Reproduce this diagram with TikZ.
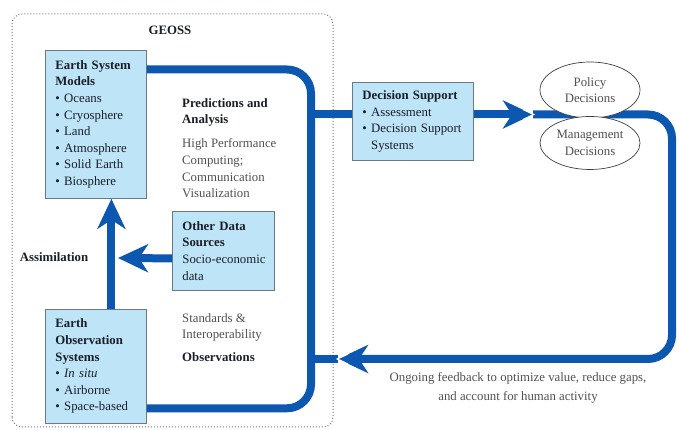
\documentclass[tikz,border=0pt]{standalone}
\usepackage{fontspec}
\setmainfont{Liberation Serif}
\usetikzlibrary{positioning,arrows.meta,shapes.geometric}
\definecolor{flowblue}{RGB}{12,88,176}
\definecolor{boxfill}{RGB}{190,228,247}
\definecolor{boxline}{RGB}{110,120,128}
\definecolor{txtgray}{RGB}{80,80,80}
\definecolor{txtdark}{RGB}{25,30,40}
\newcommand\geofont{\fontsize{12.8}{16.6}\selectfont}
\tikzset{
  box/.style={draw=boxline, fill=boxfill, anchor=north west, inner xsep=10pt, inner ysep=0pt,
    align=left, text=txtdark, line width=0.8pt, font=\geofont},
  flow/.style={draw=flowblue, line width=8pt},
  head/.style={-{Stealth[length=30pt,width=28pt,inset=9pt]}},
  lbl/.style={inner sep=0pt, align=left, text=txtgray, font=\geofont},
  bold/.style={inner sep=0pt, align=left, text=txtdark, font=\geofont\bfseries},
  dec/.style={ellipse, draw=black!75, fill=white, line width=0.7pt, minimum width=100pt,
    inner sep=0pt, text=txtgray, align=center, font=\geofont},
  notch/.style={white, line width=1.2pt},
}
\begin{document}
\begin{tikzpicture}[x=1pt, y=1pt]
\useasboundingbox (0,0) rectangle (679,430);
% GEOSS frame
\draw[boxline, dotted, line width=1pt, rounded corners=10pt] (12,3) rectangle (333,416);
\node[bold] (geoss) at (170,399.5) {GEOSS};

% boxes
\node[box, text width=81pt, minimum height=148pt] (esm) at (45,380)
  {\textbf{Earth System}\\\textbf{Models}\\• Oceans\\• Cryosphere\\• Land\\• Atmosphere\\• Solid Earth\\• Biosphere};
\node[box, text width=82pt, minimum height=79pt] (ods) at (172,219)
  {\textbf{Other Data}\\\textbf{Sources}\\\mbox{Socio-economic}\\data};
\node[box, text width=81pt, minimum height=114pt] (eos) at (45,121)
  {\textbf{Earth}\\\textbf{Observation}\\\textbf{Systems}\\• \textit{In situ}\\• Airborne\\• Space-based};
\node[box, text width=101pt, minimum height=78pt] (ds) at (352,348)
  {\textbf{Decision Support}\\• Assessment\\• Decision Support\\\phantom{• }Systems};

% labels
\node[bold, anchor=north west] (pred) at (182,332) {Predictions and\\Analysis};
\node[lbl, below=12pt of pred.south west, anchor=north west] (hpc)
  {High Performance\\Computing;\\Communication\\Visualization};
\node[lbl, anchor=north west] (std) at (182,117) {Standards \&\\Interoperability};
\node[bold, below=11pt of std.south west, anchor=north west] (obs) {Observations};
\node[bold] (assim) at (54,173) {Assimilation};

% flows
\coordinate (loopx) at (311,200);
\coordinate (br) at (311,315.5);
\coordinate (tipa) at (533,315.5);
\coordinate (rx) at (672,200);
\coordinate (tipb) at (338,71);
\coordinate (odstip) at (118,172);
\draw[flow, rounded corners=24pt] ([yshift=-19.5pt]esm.north east) -| (loopx) |- ([yshift=15.5pt]eos.south east);
\draw[flow] (br) -- (br -| ds.west);
\draw[flow, head, rounded corners=24pt] (tipa) -| (rx) |- (tipb);
\draw[flow] (tipb) -- (tipb -| br);
\draw[flow, head] (br -| ds.east) -- (tipa);
\draw[flow, head] ([xshift=15.5pt]eos.north) -- ([xshift=15.5pt]esm.south);
\draw[flow, head] ([yshift=-7.5pt]ods.west) -- (odstip);
\draw[notch] ([shift={(-10pt,5pt)}]tipa) -- ([xshift=0.8pt]tipa) -- ([shift={(-10pt,-5pt)}]tipa);
\draw[notch] ([shift={(10pt,5pt)}]tipb) -- ([xshift=-0.8pt]tipb) -- ([shift={(10pt,-5pt)}]tipb);

% decisions
\node[dec, minimum height=56pt] (policy) at (590,340) {Policy\\Decisions};
\node[dec, minimum height=53pt] (mgmt) at (590,287) {Management\\Decisions};

\node[lbl, align=center] (fb) at (518,42.5)
  {Ongoing feedback to optimize value, reduce gaps,\\[2.4pt]and account for human activity};
\end{tikzpicture}
\end{document}
